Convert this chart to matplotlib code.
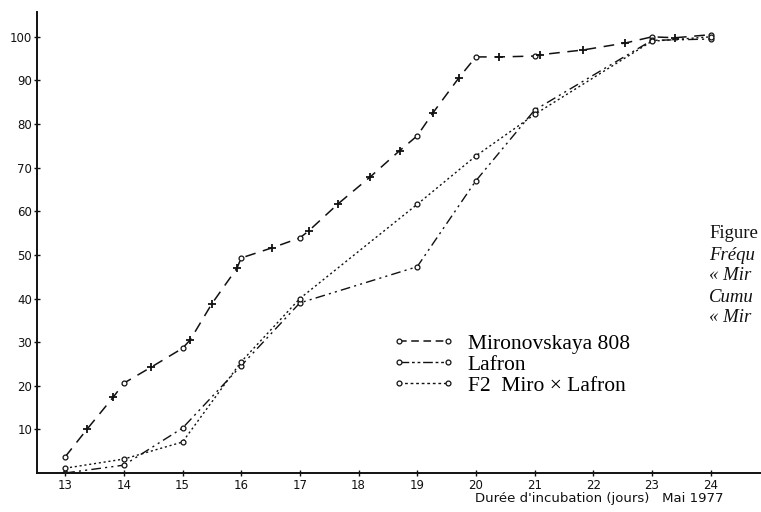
import matplotlib
matplotlib.use('Agg')
import matplotlib.pyplot as plt
from matplotlib.lines import Line2D

# Mironovskaya 808 : cercles aux jours entiers, croix entre deux
miro_days = [13, 13.37, 13.82, 14, 14.47, 15, 15.13, 15.5, 15.93, 16, 16.52, 17,
             17.15, 17.65, 18.2, 18.7, 19, 19.27, 19.71, 20, 20.4, 21, 21.1,
             21.83, 22.55, 23, 23.4, 24]
miro_vals = [3.7, 10, 17.4, 20.6, 24.3, 28.6, 30.5, 38.8, 47, 49.3, 51.6, 53.9,
             55.5, 61.7, 67.9, 73.9, 77.3, 82.6, 90.6, 95.4, 95.4, 95.6, 95.9,
             97, 98.6, 100, 99.8, 100.5]

lafron_days = [13, 14, 15, 16, 17, 19, 20, 21, 23, 24]
lafron_vals = [0, 1.8, 10.3, 24.6, 39, 47.3, 67, 83.2, 99.2, 99.5]

f2_days = [13, 14, 15, 16, 17, 19, 20, 21, 23, 24]
f2_vals = [1.1, 3.2, 7.1, 25.5, 40, 61.6, 72.7, 82.2, 99.0, 100.0]

labels = ['Mironovskaya 808', 'Lafron', 'F2  Miro × Lafron']
x_ticks = list(range(13, 25))
y_ticks = list(range(10, 101, 10))

fig = plt.figure(figsize=(7.61, 5.12), dpi=100)
ax = fig.add_axes([37 / 761, 39 / 512, 724 / 761, 461 / 512])

ink = '#111111'
# courbe Miro : tirets longs, marqueurs o / +
ax.plot(miro_days, miro_vals, color=ink, lw=1.1, dashes=(7, 5))
circ_x = [d for d in miro_days if float(d).is_integer()]
circ_y = [v for d, v in zip(miro_days, miro_vals) if float(d).is_integer()]
plus_x = [d for d in miro_days if not float(d).is_integer()]
plus_y = [v for d, v in zip(miro_days, miro_vals) if not float(d).is_integer()]
ax.plot(circ_x, circ_y, 'o', ms=3.5, mfc='white', mec=ink, mew=0.9)
ax.plot(plus_x, plus_y, '+', ms=6, mec=ink, mew=1.3)

ax.plot(lafron_days, lafron_vals, color=ink, lw=1.0, dashes=(7, 3, 1.5, 3, 1.5, 3),
        marker='o', ms=3.5, mfc='white', mec=ink, mew=0.9)
ax.plot(f2_days, f2_vals, color=ink, lw=1.0, dashes=(1.5, 2),
        marker='o', ms=3.5, mfc='white', mec=ink, mew=0.9)

ax.set_xlim(12.52, 24.86)
ax.set_ylim(0, 105.7)
ax.set_xticks(x_ticks)
ax.set_yticks(y_ticks)
ax.tick_params(direction='inout', length=5, width=1, labelsize=8.5, colors=ink)
ax.tick_params(axis='x', pad=2)
ax.tick_params(axis='y', pad=1)
for s in ['top', 'right']:
    ax.spines[s].set_visible(False)
for s in ['left', 'bottom']:
    ax.spines[s].set_linewidth(1.4)
    ax.spines[s].set_color(ink)

handles = [
    Line2D([], [], color=ink, lw=1.1, dashes=(5, 3), marker='o', ms=3.5,
           mfc='white', mec=ink, mew=0.9),
    Line2D([], [], color=ink, lw=1.0, dashes=(7, 2, 2, 2, 2, 2), marker='o', ms=3.5,
           mfc='white', mec=ink, mew=0.9),
    Line2D([], [], color=ink, lw=1.0, dashes=(2, 2), marker='o', ms=3.5,
           mfc='white', mec=ink, mew=0.9),
]
leg = ax.legend(handles, labels, loc='upper left', bbox_to_anchor=(0.47, 0.335),
                frameon=False, numpoints=2, handlelength=2.9, handletextpad=0.6,
                labelspacing=0.05, borderpad=0.2,
                prop={'family': 'Liberation Serif', 'size': 15.5})

fig.text(0.788, 0.026, "Durée d'incubation (jours)   Mai 1977", ha='center',
         va='center', fontsize=9.5, color=ink)

# texte de la page voisine, coupé au bord
side = [("Figure", 'normal', 234), ("Fréqu", 'italic', 255),
        ("« Mir", 'italic', 276), ("Cumu", 'italic', 297),
        ("« Mir", 'italic', 318)]
for txt, st, ypix in side:
    fig.text(709 / 761, 1 - ypix / 512, txt, family='Liberation Serif', style=st,
             fontsize=13.5, va='center', ha='left', color=ink)

fig.savefig('out.png', dpi=100)
